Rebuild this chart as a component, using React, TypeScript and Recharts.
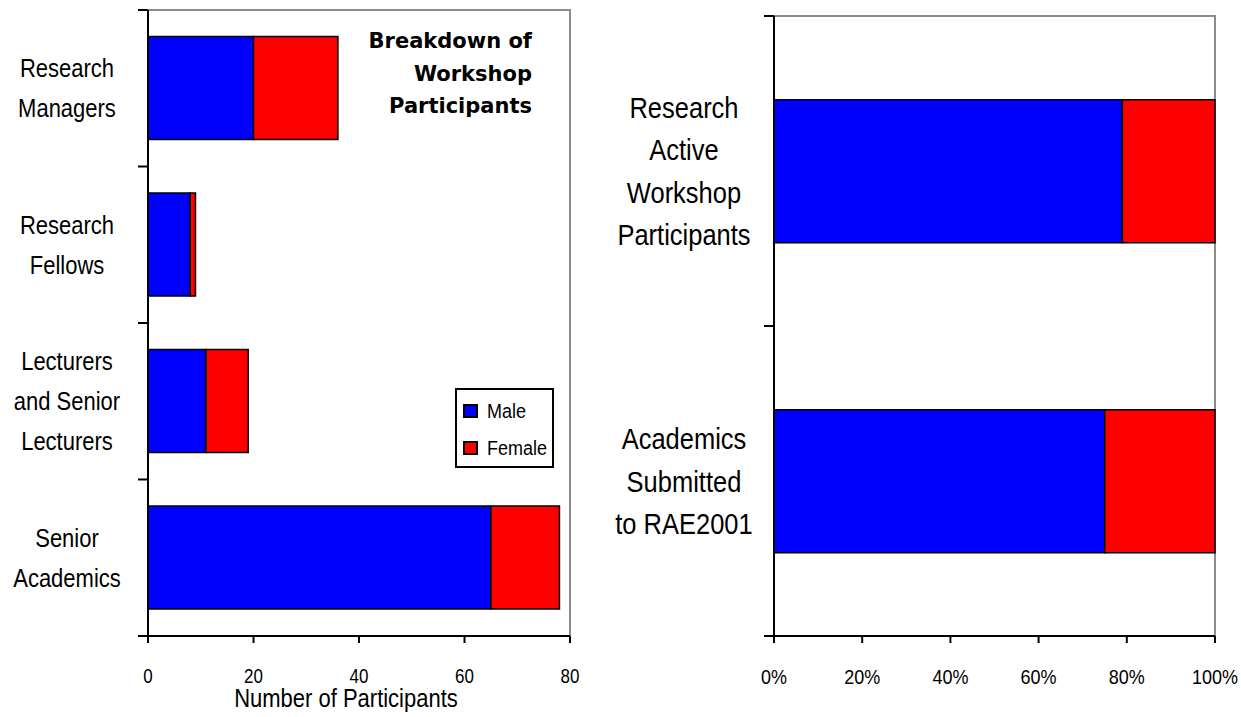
import React from 'react';
import { BarChart, Bar, XAxis, YAxis, Legend, ReferenceArea } from 'recharts';

// left chart: counts of workshop participants by role
const roles = ['Research Managers', 'Research Fellows', 'Lecturers and Senior Lecturers', 'Senior Academics'];
const roleLines: Record<string, string[]> = {
  'Research Managers': ['Research', 'Managers'],
  'Research Fellows': ['Research', 'Fellows'],
  'Lecturers and Senior Lecturers': ['Lecturers', 'and Senior', 'Lecturers'],
  'Senior Academics': ['Senior', 'Academics'],
};
const maleCounts = [20, 8, 11, 65];
const femaleCounts = [16, 1, 8, 13];
const countTicks = [0, 20, 40, 60, 80];

// right chart: male / female share
const groups = ['Research Active Workshop Participants', 'Academics Submitted to RAE2001'];
const groupLines: Record<string, string[]> = {
  'Research Active Workshop Participants': ['Research', 'Active', 'Workshop', 'Participants'],
  'Academics Submitted to RAE2001': ['Academics', 'Submitted', 'to RAE2001'],
};
const malePct = [79, 75];
const femalePct = [21, 25];
const pctTicks = [0, 20, 40, 60, 80, 100];

const titleLines = ['Breakdown of', 'Workshop', 'Participants'];
const seriesOrder = ['Male', 'Female'];

const leftData = roles.map((r, i) => ({ role: r, male: maleCounts[i], female: femaleCounts[i] }));
const rightData = groups.map((g, i) => ({ group: g, male: malePct[i], female: femalePct[i] }));

const FONT = "'Liberation Sans', Arial, sans-serif";
const BLUE = '#0000FF';
const RED = '#FF0000';
const BORDER = '#8c8c8c';
const axisStroke = { stroke: '#000', strokeWidth: 2 };
const K = 1.15; // the original lettering is a bit taller than it is wide

const H = 717;
const X_AXIS_H = 81;
const L = { w: 600, top: 10, right: 30, yw: 148 };
const R = { w: 641, top: 16, right: 26, yw: 174 };
const leftBand = (H - L.top - X_AXIS_H) / roles.length;
const rightBand = (H - R.top - X_AXIS_H) / groups.length;

// text stretched vertically about its own baseline
const SText = ({ x, y, fs, anchor = 'middle', children }: any) => (
  <text x={x} y={y} textAnchor={anchor} fontFamily={FONT} fontSize={fs} fill="#000"
    transform={`matrix(1 0 0 ${K} 0 ${y * (1 - K)})`}>
    {children}
  </text>
);

// category label centred in the axis area, with Excel-style tick marks on the band edges
const CategoryTick = (props: any) => {
  const { y, payload, index, visibleTicksCount, lines, cx, lh, fs, axisX, band } = props;
  const rows: string[] = lines[payload.value] || [payload.value];
  const last = index === visibleTicksCount - 1;
  return (
    <g>
      <line x1={axisX - 10} x2={axisX} y1={y - band / 2} y2={y - band / 2} stroke="#000" strokeWidth={2} />
      {last && <line x1={axisX - 10} x2={axisX} y1={y + band / 2} y2={y + band / 2} stroke="#000" strokeWidth={2} />}
      {rows.map((r, i) => (
        <SText key={i} x={cx} y={y + (i - (rows.length - 1) / 2) * lh + 0.36 * fs * K} fs={fs}>{r}</SText>
      ))}
    </g>
  );
};

const ValueTick = (props: any) => {
  const { x, y, payload, fs, suffix = '' } = props;
  return <SText x={x} y={y + 0.71 * fs * K} fs={fs}>{`${payload.value}${suffix}`}</SText>;
};

const AxisTitle = (props: any) => {
  const { viewBox, value } = props;
  return <SText x={viewBox.x + viewBox.width / 2 - 13} y={viewBox.y + viewBox.height - 10} fs={22}>{value}</SText>;
};

const LegendBox = (props: any) => {
  const items = [...(props.payload || [])].sort(
    (a: any, b: any) => seriesOrder.indexOf(a.value) - seriesOrder.indexOf(b.value)
  );
  return (
    <div style={{ border: '2px solid #000', background: '#fff', width: 95, height: 74, paddingTop: 2, boxSizing: 'content-box' }}>
      {items.map((it: any) => (
        <div key={it.value} style={{ height: 37, display: 'flex', alignItems: 'center' }}>
          <span style={{ display: 'inline-block', width: 11, height: 10, border: '2px solid #000', background: it.color, marginLeft: 6, marginRight: 9 }} />
          <span style={{ display: 'inline-block', fontFamily: FONT, fontSize: 18, color: '#000', lineHeight: '18px', transform: `scaleY(${K})` }}>{it.value}</span>
        </div>
      ))}
    </div>
  );
};

export default function App() {
  return (
    <div style={{ position: 'absolute', left: 0, top: 0, width: 1241, height: H, background: '#fff', overflow: 'hidden' }}>
      <div style={{ position: 'absolute', left: 0, top: 0 }}>
        <BarChart width={L.w} height={H} data={leftData} layout="vertical" barCategoryGap="17%"
          margin={{ top: L.top, right: L.right, left: 0, bottom: 0 }}>
          <ReferenceArea yAxisId="cat" x1={0} x2={80} fill="none" stroke={BORDER} strokeWidth={2} />
          <XAxis type="number" domain={[0, 80]} ticks={countTicks} height={X_AXIS_H}
            axisLine={axisStroke} tickLine={axisStroke} tickSize={7} tickMargin={26}
            tick={<ValueTick fs={17} />}
            label={<AxisTitle value="Number of Participants" />} />
          <YAxis yAxisId="cat" type="category" dataKey="role" width={L.yw} axisLine={axisStroke} tickLine={false}
            tick={<CategoryTick lines={roleLines} cx={67} lh={40} fs={22} axisX={L.yw} band={leftBand} />} />
          <Legend layout="horizontal" verticalAlign="middle" align="center" content={<LegendBox />}
            wrapperStyle={{ left: 455, top: 388, width: 99 }} />
          <Bar yAxisId="cat" dataKey="male" name="Male" stackId="s" fill={BLUE} stroke="#000" strokeWidth={1.5} isAnimationActive={false} />
          <Bar yAxisId="cat" dataKey="female" name="Female" stackId="s" fill={RED} stroke="#000" strokeWidth={1.5} isAnimationActive={false} />
        </BarChart>
      </div>
      <div style={{ position: 'absolute', left: 300, top: 25, width: 232, textAlign: 'right', fontFamily: "'DejaVu Sans', sans-serif", fontWeight: 'bold', fontSize: 21, lineHeight: '32.5px', color: '#000' }}>
        {titleLines.map((t) => <div key={t}>{t}</div>)}
      </div>
      <div style={{ position: 'absolute', left: 600, top: 0 }}>
        <BarChart width={R.w} height={H} data={rightData} layout="vertical" barCategoryGap="27%"
          margin={{ top: R.top, right: R.right, left: 0, bottom: 0 }}>
          <ReferenceArea yAxisId="cat" x1={0} x2={100} fill="none" stroke={BORDER} strokeWidth={2} />
          <XAxis type="number" domain={[0, 100]} ticks={pctTicks} height={X_AXIS_H}
            axisLine={axisStroke} tickLine={axisStroke} tickSize={7} tickMargin={26}
            tick={<ValueTick fs={18} suffix="%" />} />
          <YAxis yAxisId="cat" type="category" dataKey="group" width={R.yw} axisLine={axisStroke} tickLine={false}
            tick={<CategoryTick lines={groupLines} cx={84} lh={42.5} fs={25.5} axisX={R.yw} band={rightBand} />} />
          <Bar yAxisId="cat" dataKey="male" name="Male" stackId="s" fill={BLUE} stroke="#000" strokeWidth={1.5} isAnimationActive={false} />
          <Bar yAxisId="cat" dataKey="female" name="Female" stackId="s" fill={RED} stroke="#000" strokeWidth={1.5} isAnimationActive={false} />
        </BarChart>
      </div>
    </div>
  );
}
